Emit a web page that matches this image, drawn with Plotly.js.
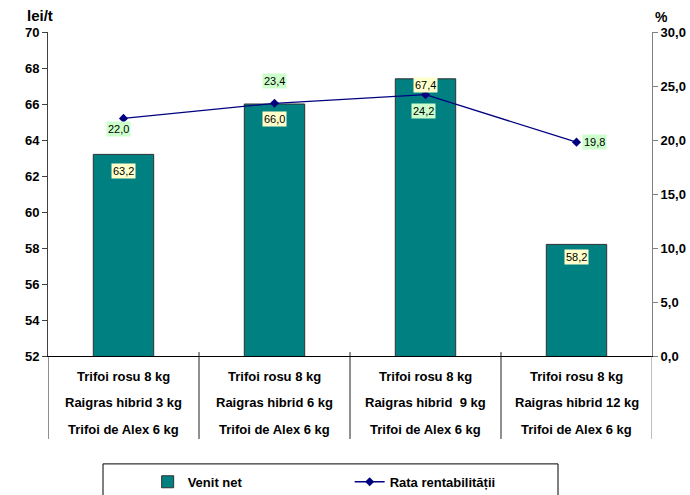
<!DOCTYPE html>
<html>
<head>
<meta charset="utf-8">
<script src="https://cdn.plot.ly/plotly-3.0.1.min.js"></script>
<style>
  html, body { margin: 0; padding: 0; background: #ffffff; }
  #chart { width: 690px; height: 495px; }
</style>
</head>
<body>
<div id="chart"></div>
<script>
// Seed mixtures (three text rows per category)
const mixRow1 = ['Trifoi rosu 8 kg', 'Trifoi rosu 8 kg', 'Trifoi rosu 8 kg', 'Trifoi rosu 8 kg'];
const mixRow2 = ['Raigras hibrid 3 kg', 'Raigras hibrid 6 kg', 'Raigras hibrid\u00a0 9 kg', 'Raigras hibrid 12 kg'];
const mixRow3 = ['Trifoi de Alex 6 kg', 'Trifoi de Alex 6 kg', 'Trifoi de Alex 6 kg', 'Trifoi de Alex 6 kg'];

// Net income (lei/t) and profitability rate (%)
const venitNet = [63.2, 66.0, 67.4, 58.2];
const rataRentabilitatii = [22.0, 23.4, 24.2, 19.8];

const seriesNames = ['Venit net', 'Rata rentabilității'];

// Label offsets in pixels (layout only)
const barLabelShift = [-17, -15, -6, -13];
const lineLabelShift = [[-5, -11], [0, 22], [-2, -16], [18, 0]];

const FONT = 'Liberation Sans, Arial, sans-serif';
const xPos = venitNet.map((_, i) => i);
const fmt = v => v.toFixed(1).replace('.', ',');

const barTrace = {
  type: 'bar',
  name: seriesNames[0],
  x: xPos,
  y: venitNet,
  width: 0.4,
  marker: { color: '#008080', line: { color: '#303030', width: 1 } },
  hoverinfo: 'skip'
};

const lineTrace = {
  type: 'scatter',
  mode: 'lines+markers',
  name: seriesNames[1],
  x: xPos,
  y: rataRentabilitatii,
  yaxis: 'y2',
  line: { color: '#000080', width: 1.3 },
  marker: { symbol: 'diamond', size: 7, color: '#000080' },
  hoverinfo: 'skip'
};

const annotations = [];

// value labels on bars
venitNet.forEach((v, i) => {
  annotations.push({
    xref: 'x', yref: 'y', x: i, y: v,
    text: fmt(v), showarrow: false,
    yshift: barLabelShift[i], yanchor: 'middle',
    bgcolor: '#FFFFCC', borderpad: 1,
    font: { family: FONT, size: 11, color: '#000000' }
  });
});

// value labels on the profitability line
rataRentabilitatii.forEach((v, i) => {
  annotations.push({
    xref: 'x', yref: 'y2', x: i, y: v,
    text: fmt(v), showarrow: false,
    xshift: lineLabelShift[i][0], yshift: lineLabelShift[i][1],
    yanchor: 'middle',
    bgcolor: '#CCFFCC', borderpad: 1,
    font: { family: FONT, size: 11, color: '#000000' }
  });
});

// three-row category labels under the axis
const rowY = [-0.062, -0.145, -0.228];
[mixRow1, mixRow2, mixRow3].forEach((row, r) => {
  row.forEach((txt, i) => {
    annotations.push({
      xref: 'x', yref: 'paper', x: i, y: rowY[r],
      text: txt, showarrow: false, yanchor: 'middle',
      font: { family: FONT, size: 13, color: '#000000', weight: 'bold' }
    });
  });
});

// axis unit labels
annotations.push({
  xref: 'paper', yref: 'paper', x: -0.038, y: 1.05,
  text: 'lei/t', showarrow: false, yanchor: 'middle',
  font: { family: FONT, size: 15, color: '#000000', weight: 'bold' }
});
annotations.push({
  xref: 'paper', yref: 'paper', x: 1.03, y: 1.045,
  text: '%', showarrow: false, yanchor: 'middle',
  font: { family: FONT, size: 14, color: '#000000', weight: 'bold' }
});

// table-like separators below the category axis
const shapes = [];
[-0.5, 0.5, 1.5, 2.5, 3.5].forEach((b, k) => {
  shapes.push({
    type: 'line', xref: 'x', yref: 'paper',
    x0: b, x1: b, y0: (k === 0 || k === 4) ? 0 : 0.012, y1: -0.256,
    line: { color: k === 4 ? '#808080' : '#202020', width: 1 }
  });
});
// legend frame
shapes.push({
  type: 'rect', xref: 'paper', yref: 'paper',
  x0: (103 - 48) / 604, x1: (558 - 48) / 604,
  y0: -0.333, y1: -0.45,
  line: { color: '#000000', width: 1 }, fillcolor: 'rgba(0,0,0,0)'
});

const layout = {
  width: 690,
  height: 495,
  margin: { l: 48, r: 38, t: 32, b: 139, autoexpand: false },
  paper_bgcolor: '#ffffff',
  plot_bgcolor: '#ffffff',
  separators: ',.',
  font: { family: FONT, color: '#000000' },
  showlegend: true,
  legend: {
    orientation: 'h',
    x: 0.165, xanchor: 'left',
    y: -0.342, yanchor: 'top',
    entrywidth: 157, entrywidthmode: 'pixels',
    font: { family: FONT, size: 13, color: '#000000', weight: 'bold' },
    bgcolor: 'rgba(0,0,0,0)', borderwidth: 0
  },
  xaxis: {
    range: [-0.5, 3.5],
    showticklabels: false,
    ticks: '',
    showgrid: false,
    zeroline: false,
    showline: true,
    linecolor: '#000000',
    linewidth: 1,
    fixedrange: true
  },
  yaxis: {
    range: [52, 70],
    dtick: 2,
    tick0: 52,
    ticks: 'outside',
    ticklen: 5,
    tickcolor: '#404040',
    showgrid: false,
    zeroline: false,
    showline: true,
    linecolor: '#404040',
    linewidth: 1,
    tickfont: { family: FONT, size: 13, color: '#000000', weight: 'bold' },
    fixedrange: true
  },
  yaxis2: {
    overlaying: 'y',
    side: 'right',
    range: [0, 30],
    dtick: 5,
    tick0: 0,
    tickformat: '.1f',
    ticks: 'outside',
    ticklen: 5,
    tickcolor: '#808080',
    showgrid: false,
    zeroline: false,
    showline: true,
    linecolor: '#808080',
    linewidth: 1,
    tickfont: { family: FONT, size: 13, color: '#000000', weight: 'bold' },
    fixedrange: true
  },
  annotations: annotations,
  shapes: shapes
};

Plotly.newPlot('chart', [barTrace, lineTrace], layout, { staticPlot: true, displayModeBar: false });
</script>
</body>
</html>
